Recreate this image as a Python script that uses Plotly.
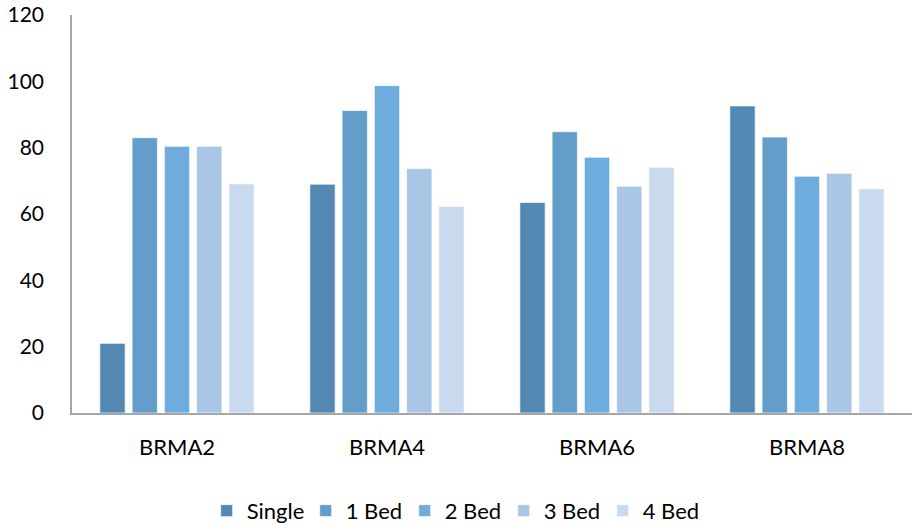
import plotly.graph_objects as go

# Occupancy-style values per area and dwelling size
categories = ["BRMA2", "BRMA4", "BRMA6", "BRMA8"]
series_names = ["Single", "1 Bed", "2 Bed", "3 Bed", "4 Bed"]
single = [21.0, 69.0, 63.5, 92.6]
bed1 = [83.0, 91.2, 84.8, 83.2]
bed2 = [80.4, 98.7, 77.1, 71.4]
bed3 = [80.4, 73.7, 68.4, 72.3]
bed4 = [69.1, 62.3, 74.1, 67.6]
y_ticks = [0, 20, 40, 60, 80, 100, 120]

series_values = [single, bed1, bed2, bed3, bed4]
colors = ["#5288b2", "#639dc9", "#6dacdd", "#a9c6e6", "#c9daef"]

FONT = "Lato, 'Open Sans', sans-serif"

fig = go.Figure()
for name, vals, col in zip(series_names, series_values, colors):
    fig.add_trace(go.Bar(
        x=categories, y=vals, name=name,
        marker=dict(color=col, line=dict(color="rgba(255,255,255,0.7)", width=1)),
    ))

fig.update_layout(
    width=912, height=525,
    margin=dict(l=72, r=0, t=15, b=112, autoexpand=False),
    paper_bgcolor="white", plot_bgcolor="white",
    barmode="group", bargap=0.232, bargroupgap=0.215,
    font=dict(family=FONT, size=21, color="#000000"),
    showlegend=True,
    legend=dict(
        orientation="h", x=0.455, xanchor="center",
        yref="container", y=0.027, yanchor="middle",
        font=dict(size=22), entrywidth=54, entrywidthmode="pixels",
        itemwidth=30, traceorder="normal",
    ),
    xaxis=dict(
        showline=True, linecolor="#a6a6a6", linewidth=1.5,
        showgrid=False, ticks="", tickfont=dict(size=22),
        ticklabelstandoff=14,
    ),
    yaxis=dict(
        range=[0, 120], tickvals=y_ticks, ticktext=[str(v) for v in y_ticks],
        showline=True, linecolor="#a6a6a6", linewidth=1.5,
        showgrid=False, zeroline=False, ticks="", tickfont=dict(size=21),
        ticklabelstandoff=22,
    ),
)

fig.write_html("out.html")
